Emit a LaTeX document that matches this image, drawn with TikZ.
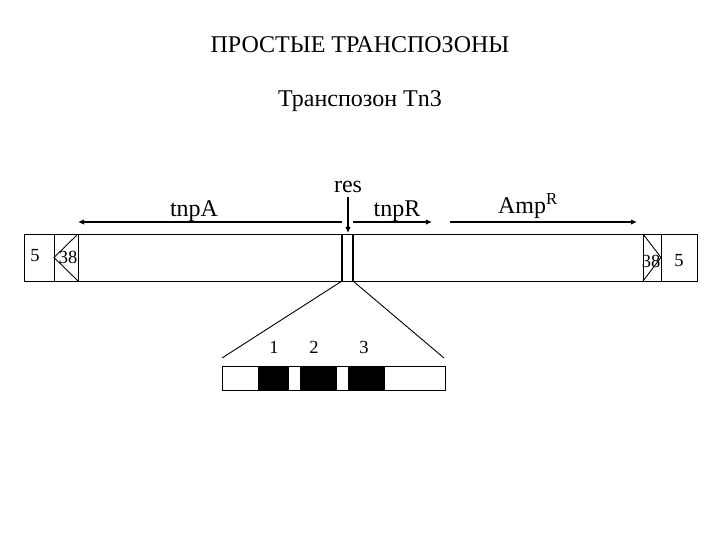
\documentclass[tikz,border=0pt]{standalone}
\usepackage{fontspec}
\setmainfont{Liberation Serif}
\usetikzlibrary{arrows.meta}
\begin{document}
\begin{tikzpicture}[x=1pt,y=-1pt,
  thin line/.style={draw=black,line width=0.9pt},
  res line/.style={draw=black,line width=2pt},
  gene arrow/.style={draw=black,line width=1.8pt,-{Latex[length=6pt,width=5.5pt]}},
  lbl/.style={inner sep=0pt,font=\fontsize{24}{28}\selectfont},
  num/.style={inner sep=0pt,font=\fontsize{18.5}{22}\selectfont}]
\useasboundingbox (0,0) rectangle (720,540);
% titles
\node[lbl] (title) at (360,45) {ПРОСТЫЕ ТРАНСПОЗОНЫ};
\node[lbl] (sub) at (360,101) {Транспозон Tn3};
% main bar
\draw[thin line] (24,234) rectangle (697,281);
\draw[thin line] (54,234) -- (54,281);
\draw[thin line] (78,234) -- (78,281);
\draw[thin line] (78,234) -- (54,257.5) -- (78,281);
\draw[thin line] (643,234) -- (643,281);
\draw[thin line] (661,234) -- (661,281);
\draw[thin line] (643,234) -- (661,257.5) -- (643,281);
\node[num] (l5) at (35,256) {5};
\node[num] (l38) at (68,257) {38};
\node[num] (r38) at (651,261) {38};
\node[num] (r5) at (679,261) {5};
% res region
\coordinate (resLt) at (342,234);
\coordinate (resLb) at (342,281);
\coordinate (resRt) at (353,234);
\coordinate (resRb) at (353,281);
\draw[res line] (resLt) -- (resLb);
\draw[res line] (resRt) -- (resRb);
\node[lbl] (res) at (348,187) {res};
\coordinate (resTip) at (348,233);
\draw[gene arrow] (348,197) -- (resTip);
% gene arrows
\coordinate (aS) at (342,222); \coordinate (aE) at (78,222);
\coordinate (rS) at (353,222); \coordinate (rE) at (432,222);
\coordinate (mS) at (450,222); \coordinate (mE) at (637,222);
\draw[gene arrow] (aS) -- (aE);
\draw[gene arrow] (rS) -- (rE);
\draw[gene arrow] (mS) -- (mE);
\node[lbl] (tnpA) at (194,211) {tnpA};
\node[lbl] (tnpR) at (397,211) {tnpR};
\node[lbl] (amp) at (528,206) {Amp\textsuperscript{R}};
% expansion
\coordinate (eL) at (222,358);
\coordinate (eR) at (444,358);
\draw[thin line] (resLb) -- (eL);
\draw[thin line] (resRb) -- (eR);
\draw[thin line] (222,366) rectangle (445,390);
\fill[black] (258,366) rectangle (289,390);
\fill[black] (300,366) rectangle (337,390);
\fill[black] (348,366) rectangle (385,390);
\node[num] (n1) at (274,347) {1};
\node[num] (n2) at (314,347) {2};
\node[num] (n3) at (364,347) {3};
\end{tikzpicture}
\end{document}
